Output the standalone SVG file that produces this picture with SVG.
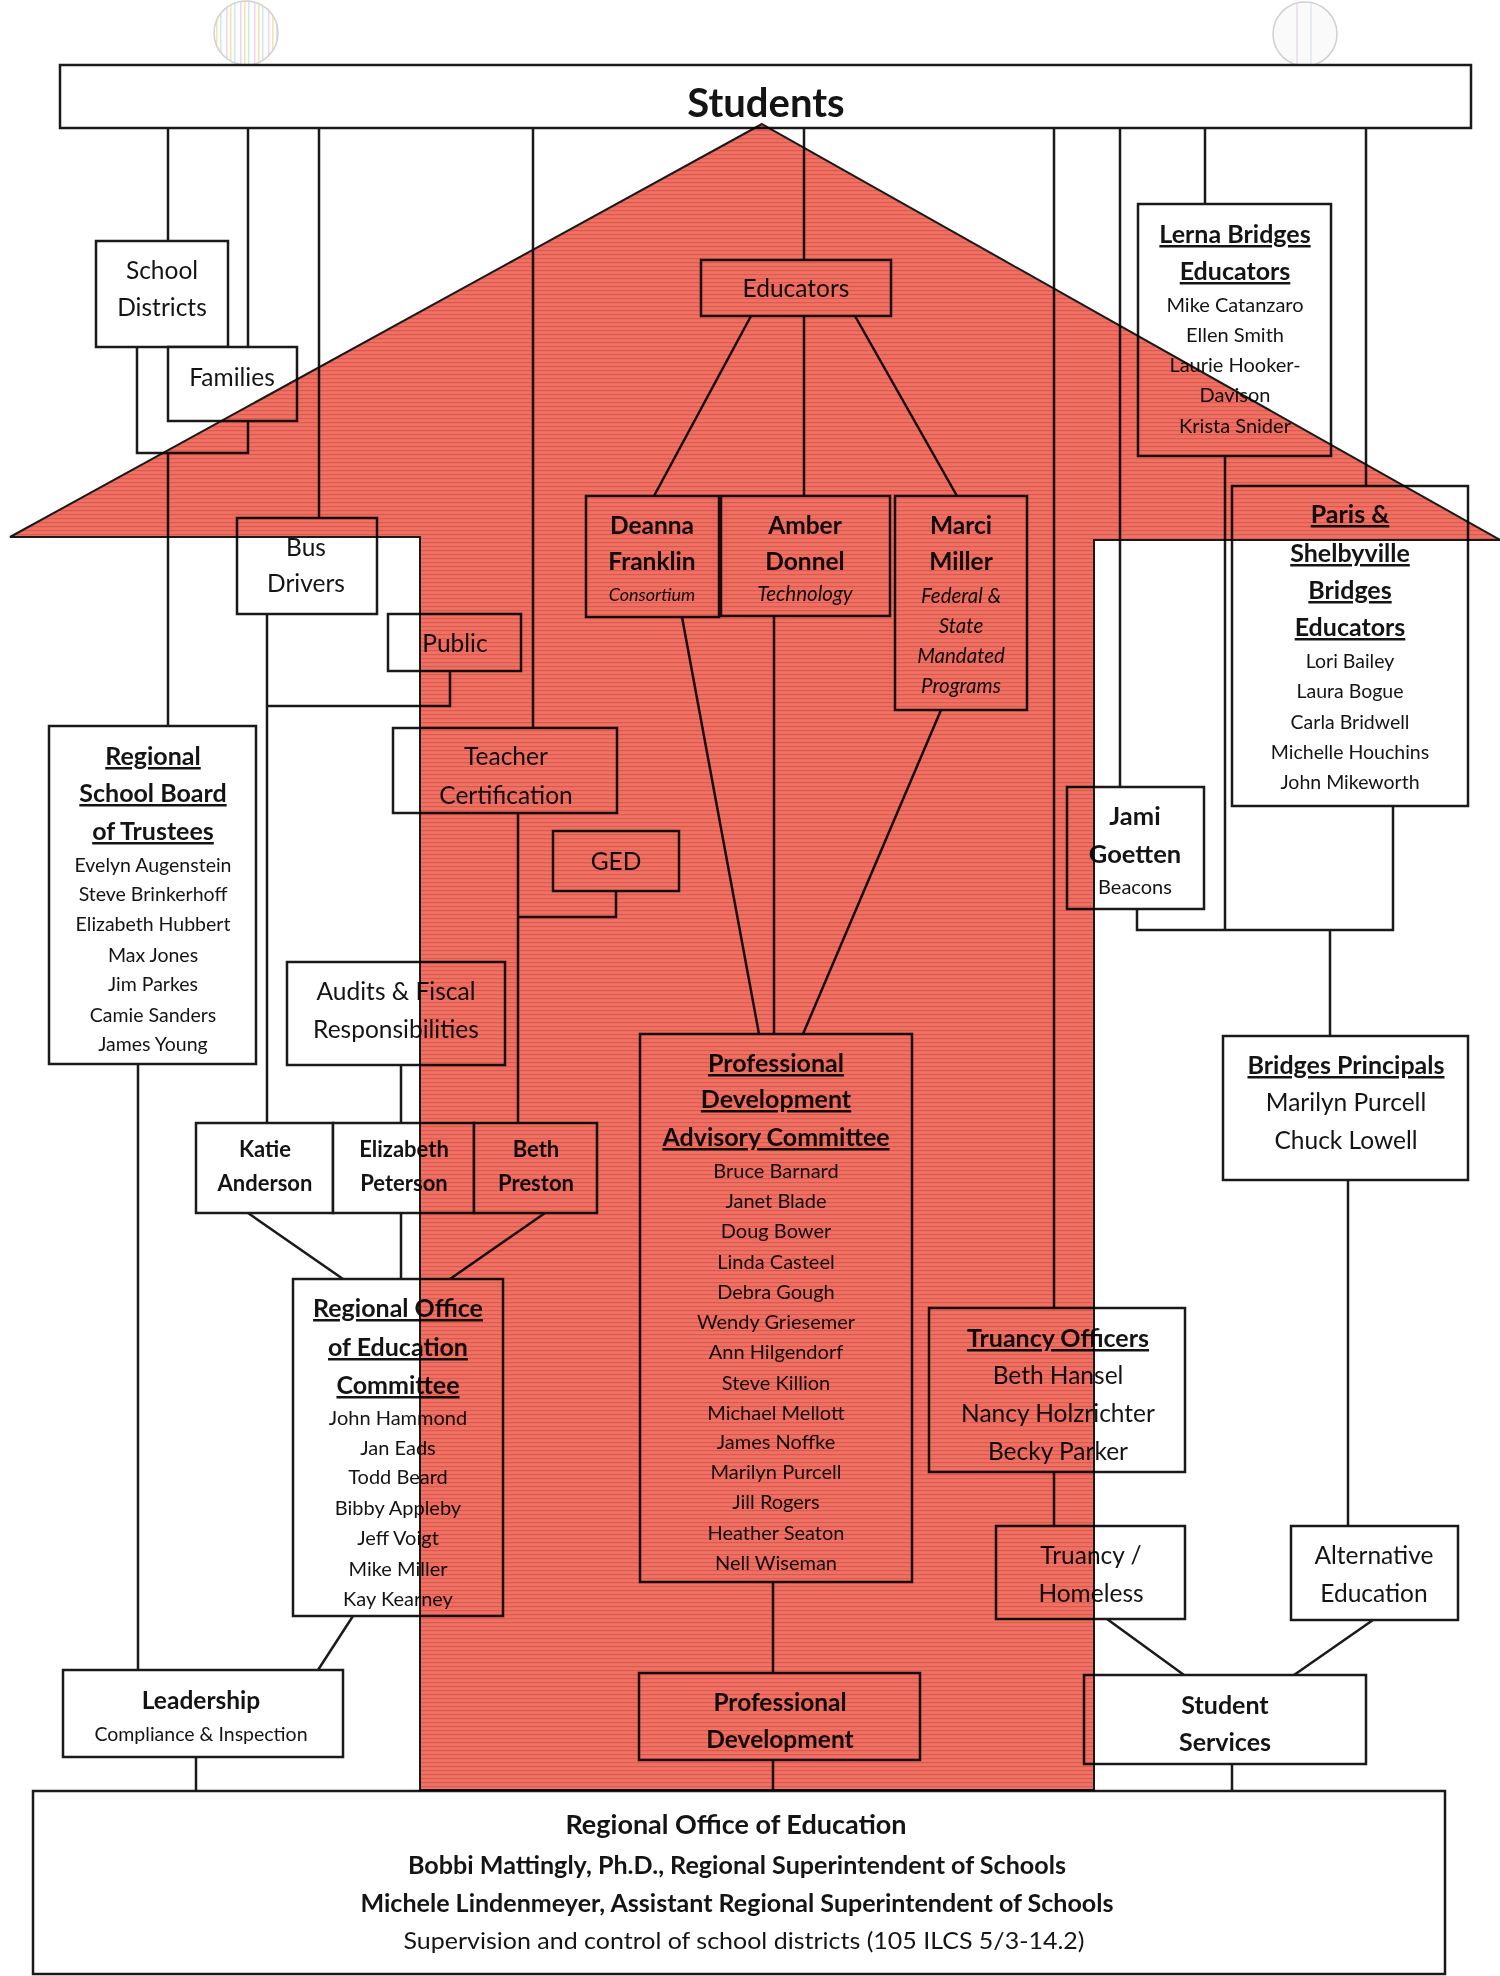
<svg xmlns="http://www.w3.org/2000/svg" width="1500" height="1976" viewBox="0 0 1500 1976">
<defs>
<style>
.box{fill:#fff;stroke:#1a1a1a;stroke-width:2.5}
.ln{stroke:#1a1a1a;stroke-width:2.5;fill:none}
text{font-family:Lato,"Liberation Sans",sans-serif;fill:#141414;text-anchor:middle}
.t22{font-size:24.5px}
.b22{font-size:24.5px;font-weight:bold}
.h22{font-size:25px;font-weight:bold;text-decoration:underline}
.n18{font-size:19.5px}
.n17{font-size:20px}
.i16{font-size:20.5px;font-style:italic}
.red{fill:url(#weave);stroke:#1a1a1a;stroke-width:2;mix-blend-mode:multiply}
</style>
<pattern id="weave" width="6" height="4" patternUnits="userSpaceOnUse">
<rect width="6" height="4" fill="#ee7263"/>
<rect y="2" width="6" height="1.2" fill="#d6443e" opacity="0.6"/>
</pattern>
<pattern id="stripes" width="14" height="10" patternUnits="userSpaceOnUse">
<rect width="14" height="10" fill="#fcfcfc"/>
<rect x="2" width="1.5" height="10" fill="#efd6ea"/>
<rect x="6" width="1.5" height="10" fill="#f4e7a6"/>
<rect x="10" width="1.5" height="10" fill="#cfe8f2"/>
</pattern>
</defs>

<g id="punch-holes">
<circle cx="246" cy="33" r="32" fill="url(#stripes)" stroke="#d2d2d2" stroke-width="1.5"/>
<circle cx="1305" cy="34" r="32" fill="#fafafa" stroke="#d0d0d0" stroke-width="1.5"/>
<line x1="1297" y1="3" x2="1297" y2="64" stroke="#e6c9e6" stroke-width="1"/>
<line x1="1311" y1="3" x2="1311" y2="64" stroke="#c9e3ea" stroke-width="1"/>
</g>

<g id="connectors">
<path class="ln" d="M168 128V241M248 128V347M319 128V518M533 128V728M804 128V260M1054 128V1308M1120 128V787M1205 128V204M1366 128V486"/>
<path class="ln" d="M137 347V453H248V421M168 453V726"/>
<path class="ln" d="M138 1064V1670M196 1757V1790"/>
<path class="ln" d="M267 614V1123M450 671V706H267"/>
<path class="ln" d="M401 1065V1123M401 1213V1279"/>
<path class="ln" d="M518 813V1123M616 891V917H518"/>
<path class="ln" d="M248 1213L343 1279M545 1213L450 1279M353 1616L318 1670"/>
<path class="ln" d="M751 316L654 496M804 316V496M855 316L957 496"/>
<path class="ln" d="M682 617L759 1034M774 616V1034M941 710L803 1034"/>
<path class="ln" d="M773 1582V1673M773 1760V1790"/>
<path class="ln" d="M1054 1472V1526M1107 1619L1184 1675M1373 1620L1294 1675M1232 1764V1792"/>
<path class="ln" d="M1137 909V930H1393V806M1225 456V930M1330 930V1036M1348 1180V1526"/>
</g>

<g id="students">
<rect class="box" x="60" y="65" width="1411" height="63"/>
<text x="766" y="117" style="font-size:40px;font-weight:bold">Students</text>
</g>

<g id="school-districts">
<rect class="box" x="96" y="241" width="132" height="106"/>
<text class="t22" x="162" y="279">School</text>
<text class="t22" x="162" y="316">Districts</text>
</g>

<g id="families">
<rect class="box" x="168" y="347" width="129" height="74"/>
<text class="t22" x="232" y="386">Families</text>
</g>

<g id="bus-drivers">
<rect class="box" x="237" y="518" width="140" height="96"/>
<text class="t22" x="306" y="556">Bus</text>
<text class="t22" x="306" y="592">Drivers</text>
</g>

<g id="public">
<rect class="box" x="388" y="614" width="133" height="57"/>
<text class="t22" x="455" y="652">Public</text>
</g>

<g id="teacher-certification">
<rect class="box" x="393" y="728" width="224" height="85"/>
<text class="t22" x="506" y="765">Teacher</text>
<text class="t22" x="506" y="804">Certification</text>
</g>

<g id="ged">
<rect class="box" x="553" y="831" width="126" height="60"/>
<text class="t22" x="616" y="870">GED</text>
</g>

<g id="regional-school-board">
<rect class="box" x="49" y="726" width="207" height="338"/>
<text class="h22" x="153" y="765">Regional</text>
<text class="h22" x="153" y="802">School Board</text>
<text class="h22" x="153" y="840">of Trustees</text>
<text class="n18" x="153" y="872">Evelyn Augenstein</text>
<text class="n18" x="153" y="901">Steve Brinkerhoff</text>
<text class="n18" x="153" y="931">Elizabeth Hubbert</text>
<text class="n18" x="153" y="962">Max Jones</text>
<text class="n18" x="153" y="991">Jim Parkes</text>
<text class="n18" x="153" y="1022">Camie Sanders</text>
<text class="n18" x="153" y="1051">James Young</text>
</g>

<g id="audits">
<rect class="box" x="287" y="962" width="218" height="103"/>
<text class="t22" x="396" y="1000">Audits &amp; Fiscal</text>
<text class="t22" x="396" y="1038">Responsibilities</text>
</g>

<g id="katie-anderson">
<rect class="box" x="196" y="1123" width="137" height="90"/>
<text class="b22" x="265" y="1157" style="font-size:22px">Katie</text>
<text class="b22" x="265" y="1191" style="font-size:22px">Anderson</text>
</g>
<g id="elizabeth-peterson">
<rect class="box" x="333" y="1123" width="141" height="90"/>
<text class="b22" x="404" y="1157" style="font-size:22px">Elizabeth</text>
<text class="b22" x="404" y="1191" style="font-size:22px">Peterson</text>
</g>
<g id="beth-preston">
<rect class="box" x="474" y="1123" width="123" height="90"/>
<text class="b22" x="536" y="1157" style="font-size:22px">Beth</text>
<text class="b22" x="536" y="1191" style="font-size:22px">Preston</text>
</g>

<g id="roe-committee">
<rect class="box" x="293" y="1279" width="210" height="337"/>
<text class="h22" x="398" y="1317">Regional Office</text>
<text class="h22" x="398" y="1356">of Education</text>
<text class="h22" x="398" y="1394">Committee</text>
<text class="n17" x="398" y="1425">John Hammond</text>
<text class="n17" x="398" y="1455">Jan Eads</text>
<text class="n17" x="398" y="1484">Todd Beard</text>
<text class="n17" x="398" y="1515">Bibby Appleby</text>
<text class="n17" x="398" y="1545">Jeff Voigt</text>
<text class="n17" x="398" y="1576">Mike Miller</text>
<text class="n17" x="398" y="1606">Kay Kearney</text>
</g>

<g id="leadership">
<rect class="box" x="63" y="1670" width="280" height="87"/>
<text class="b22" x="201" y="1709">Leadership</text>
<text x="201" y="1741" style="font-size:19.5px">Compliance &amp; Inspection</text>
</g>

<g id="educators">
<rect class="box" x="701" y="260" width="190" height="56"/>
<text class="t22" x="796" y="297">Educators</text>
</g>

<g id="deanna-franklin">
<rect class="box" x="586" y="496" width="133" height="121"/>
<text class="b22" x="652" y="534">Deanna</text>
<text class="b22" x="652" y="570">Franklin</text>
<text class="i16" x="652" y="601" style="font-size:18px">Consortium</text>
</g>
<g id="amber-donnel">
<rect class="box" x="721" y="496" width="169" height="120"/>
<text class="b22" x="805" y="534">Amber</text>
<text class="b22" x="805" y="570">Donnel</text>
<text class="i16" x="805" y="601">Technology</text>
</g>
<g id="marci-miller">
<rect class="box" x="895" y="496" width="132" height="214"/>
<text class="b22" x="961" y="534">Marci</text>
<text class="b22" x="961" y="570">Miller</text>
<text class="i16" x="961" y="603">Federal &amp;</text>
<text class="i16" x="961" y="633">State</text>
<text class="i16" x="961" y="663">Mandated</text>
<text class="i16" x="961" y="693">Programs</text>
</g>

<g id="pd-advisory-committee">
<rect class="box" x="640" y="1034" width="272" height="548"/>
<text class="h22" x="776" y="1072">Professional</text>
<text class="h22" x="776" y="1108">Development</text>
<text class="h22" x="776" y="1146">Advisory Committee</text>
<text class="n17" x="776" y="1178">Bruce Barnard</text>
<text class="n17" x="776" y="1208">Janet Blade</text>
<text class="n17" x="776" y="1238">Doug Bower</text>
<text class="n17" x="776" y="1269">Linda Casteel</text>
<text class="n17" x="776" y="1299">Debra Gough</text>
<text class="n17" x="776" y="1329">Wendy Griesemer</text>
<text class="n17" x="776" y="1359">Ann Hilgendorf</text>
<text class="n17" x="776" y="1390">Steve Killion</text>
<text class="n17" x="776" y="1420">Michael Mellott</text>
<text class="n17" x="776" y="1449">James Noffke</text>
<text class="n17" x="776" y="1479">Marilyn Purcell</text>
<text class="n17" x="776" y="1509">Jill Rogers</text>
<text class="n17" x="776" y="1540">Heather Seaton</text>
<text class="n17" x="776" y="1570">Nell Wiseman</text>
</g>

<g id="professional-development">
<rect class="box" x="639" y="1673" width="281" height="87"/>
<text class="b22" x="780" y="1711">Professional</text>
<text class="b22" x="780" y="1748">Development</text>
</g>

<g id="lerna-bridges">
<rect class="box" x="1138" y="204" width="193" height="252"/>
<text class="h22" x="1235" y="243">Lerna Bridges</text>
<text class="h22" x="1235" y="280">Educators</text>
<text class="n17" x="1235" y="312">Mike Catanzaro</text>
<text class="n17" x="1235" y="342">Ellen Smith</text>
<text class="n17" x="1235" y="372">Laurie Hooker-</text>
<text class="n17" x="1235" y="402">Davison</text>
<text class="n17" x="1235" y="433">Krista Snider</text>
</g>

<g id="paris-shelbyville">
<rect class="box" x="1232" y="486" width="236" height="320"/>
<text class="h22" x="1350" y="523">Paris &amp;</text>
<text class="h22" x="1350" y="562">Shelbyville</text>
<text class="h22" x="1350" y="599">Bridges</text>
<text class="h22" x="1350" y="636">Educators</text>
<text class="n18" x="1350" y="668">Lori Bailey</text>
<text class="n18" x="1350" y="698">Laura Bogue</text>
<text class="n18" x="1350" y="729">Carla Bridwell</text>
<text class="n18" x="1350" y="759">Michelle Houchins</text>
<text class="n18" x="1350" y="789">John Mikeworth</text>
</g>

<g id="jami-goetten">
<rect class="box" x="1067" y="787" width="137" height="122"/>
<text class="b22" x="1135" y="825" style="font-size:25.5px">Jami</text>
<text class="b22" x="1135" y="863" style="font-size:25.5px">Goetten</text>
<text x="1135" y="894" style="font-size:20px">Beacons</text>
</g>

<g id="bridges-principals">
<rect class="box" x="1223" y="1036" width="245" height="144"/>
<text class="h22" x="1346" y="1074">Bridges Principals</text>
<text class="t22" x="1346" y="1111">Marilyn Purcell</text>
<text class="t22" x="1346" y="1149">Chuck Lowell</text>
</g>

<g id="truancy-officers">
<rect class="box" x="929" y="1308" width="256" height="164"/>
<text class="h22" x="1058" y="1347">Truancy Officers</text>
<text class="t22" x="1058" y="1384">Beth Hansel</text>
<text class="t22" x="1058" y="1422">Nancy Holzrichter</text>
<text class="t22" x="1058" y="1460">Becky Parker</text>
</g>

<g id="truancy-homeless">
<rect class="box" x="996" y="1526" width="189" height="93"/>
<text class="t22" x="1091" y="1564">Truancy /</text>
<text class="t22" x="1091" y="1602">Homeless</text>
</g>

<g id="alternative-education">
<rect class="box" x="1291" y="1526" width="167" height="94"/>
<text class="t22" x="1374" y="1564">Alternative</text>
<text class="t22" x="1374" y="1602">Education</text>
</g>

<g id="student-services">
<rect class="box" x="1084" y="1675" width="282" height="89"/>
<text class="b22" x="1225" y="1714" style="font-size:25px">Student</text>
<text class="b22" x="1225" y="1751" style="font-size:25px">Services</text>
</g>

<g id="regional-office">
<rect class="box" x="33" y="1791" width="1412" height="183"/>
<text x="736" y="1834" style="font-size:27px;font-weight:bold">Regional Office of Education</text>
<text x="737" y="1874" style="font-size:24px;font-weight:bold" textLength="658" lengthAdjust="spacingAndGlyphs">Bobbi Mattingly, Ph.D., Regional Superintendent of Schools</text>
<text x="737" y="1912" style="font-size:24px;font-weight:bold" textLength="753" lengthAdjust="spacingAndGlyphs">Michele Lindenmeyer, Assistant Regional Superintendent of Schools</text>
<text x="744" y="1949" style="font-size:24px" textLength="681" lengthAdjust="spacingAndGlyphs">Supervision and control of school districts (105 ILCS 5/3-14.2)</text>
</g>

<g id="house-shape">
<polygon class="red" points="762,124 1500,540 1094,540 1094,1790 420,1790 420,537 10,537"/>
</g>
</svg>
